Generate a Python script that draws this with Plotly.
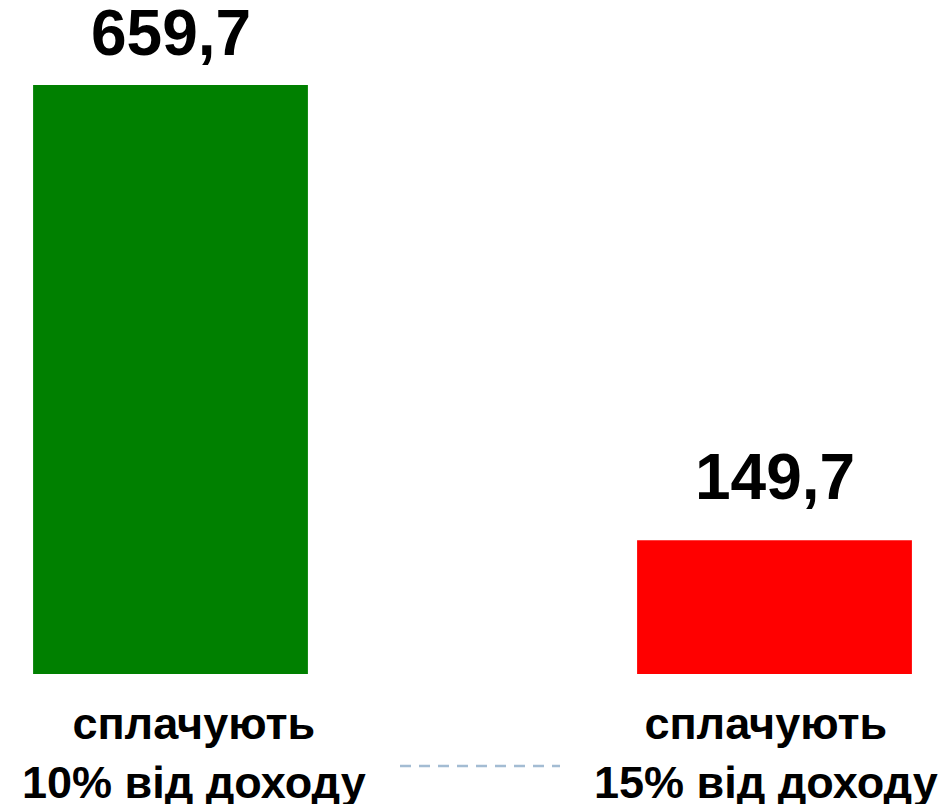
import plotly.graph_objects as go

categories = ["сплачують<br>10% від доходу", "сплачують<br>15% від доходу"]
values = [659.7, 149.7]
value_labels = ["659,7", "149,7"]
colors = ["#008000", "#ff0000"]

x_pos = [0, 1]
FONT = "Liberation Sans, Arial, sans-serif"

W, H = 943, 796
PLOT_H = 666
PX_PER_UNIT = 589 / 659.7

fig = go.Figure()
fig.add_trace(go.Bar(
    x=x_pos, y=values, width=0.455,
    marker=dict(color=colors, line=dict(width=0)),
    hoverinfo="skip",
))

val_shift = [14, 25]
for xi, v, lab, ys in zip(x_pos, values, value_labels, val_shift):
    fig.add_annotation(x=xi, y=v, text="<b>%s</b>" % lab, showarrow=False,
                       yanchor="bottom", yshift=ys,
                       font=dict(family=FONT, size=64, color="black"))

cat_shift = [23.5, -8.5]
for xi, c, xs in zip(x_pos, categories, cat_shift):
    fig.add_annotation(x=xi, y=0, text="<b>%s</b>" % c, showarrow=False,
                       yanchor="top", yshift=-22, xshift=xs,
                       font=dict(family=FONT, size=45, color="black"))

fig.add_shape(type="line", xref="paper", yref="paper",
              x0=392 / W, x1=552 / W, y0=-(758 - PLOT_H) / PLOT_H, y1=-(758 - PLOT_H) / PLOT_H,
              line=dict(color="#a3bcd3", width=2.5, dash="11px,8px"))

fig.update_layout(
    width=W, height=H,
    margin=dict(l=0, r=0, t=0, b=H - PLOT_H),
    paper_bgcolor="white", plot_bgcolor="white",
    showlegend=False,
    xaxis=dict(range=[-162.5 / 604, (W - 162.5) / 604], visible=False),
    yaxis=dict(range=[0, PLOT_H / PX_PER_UNIT], visible=False),
)

fig.write_html("out.html")
